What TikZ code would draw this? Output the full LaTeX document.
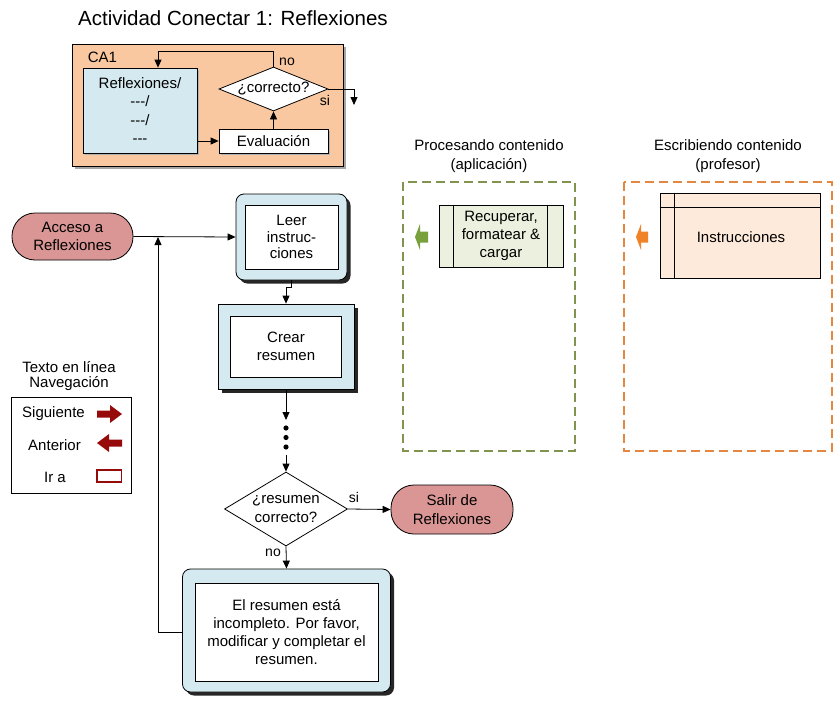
\documentclass[tikz,border=0pt]{standalone}
\usepackage{fontspec}
\setmainfont{Liberation Sans}
\usetikzlibrary{arrows.meta,shapes.geometric,shadows}

\definecolor{capeach}{RGB}{249,200,160}
\definecolor{stepblue}{RGB}{213,234,240}
\definecolor{termpink}{RGB}{217,150,148}
\definecolor{navred}{RGB}{150,10,10}
\definecolor{appgreen}{RGB}{128,148,80}
\definecolor{appgreenarrow}{RGB}{120,160,60}
\definecolor{appgreenfill}{RGB}{235,241,222}
\definecolor{profor}{RGB}{228,135,65}
\definecolor{proforarrow}{RGB}{240,130,40}
\definecolor{proforfill}{RGB}{253,234,218}

\tikzset{
  txt/.style={font=\fontsize{15}{18.3}\selectfont, align=center, inner sep=0pt},
  lbl/.style={font=\fontsize{14}{16}\selectfont, inner sep=0pt},
  arr/.style={-{Triangle[length=8pt,width=7pt]}, line width=0.8pt},
  ln/.style={line width=0.8pt},
  cabox/.style={draw, line width=0.8pt, fill=capeach, minimum width=271pt, minimum height=122pt,
    drop shadow={shadow xshift=3pt, shadow yshift=-3pt, fill=gray!70, opacity=1}},
  reflbox/.style={txt, draw, line width=0.8pt, fill=stepblue, minimum width=114pt, minimum height=85pt,
    drop shadow={shadow xshift=2pt, shadow yshift=-2pt, fill=gray!60, opacity=1}},
  evalbox/.style={txt, draw, line width=0.8pt, fill=white, minimum width=109pt, minimum height=24pt,
    drop shadow={shadow xshift=2pt, shadow yshift=-2pt, fill=gray!60, opacity=1}},
  decision/.style={txt, draw, line width=0.8pt, fill=white, diamond, inner sep=0pt},
  terminal/.style={txt, draw, line width=0.8pt, fill=termpink, rounded corners=23pt},
  stepouter/.style={draw, line width=0.8pt, fill=stepblue,
    drop shadow={shadow xshift=3.5pt, shadow yshift=-3.5pt, fill=black!85, opacity=1}},
  stepinner/.style={txt, draw, line width=0.8pt, fill=white},
  lane/.style={line width=1.5pt, dash pattern=on 9pt off 5pt},
}

\begin{document}
\begin{tikzpicture}[x=1pt,y=-1pt]
\useasboundingbox (0,0) rectangle (833,704);

% ---------- title ----------
\node[font=\fontsize{20.5}{24}\selectfont, inner sep=0pt] (title) at (233,18) {Actividad Conectar 1: Reflexiones};

% ---------- CA1 activity block ----------
\node[cabox] (ca) at (207.5,105) {};
\node[txt] (calbl) at (102.5,57) {CA1};
\node[reflbox] (refl) at (140,110.5) {Reflexiones/\\-{}-{}-/\\-{}-{}-/\\-{}-{}-};
\node[evalbox] (eval) at (273.5,141) {Evaluación};
\node[decision, minimum width=109pt, minimum height=44pt, aspect=2.48] (cor) at (273.5,89) {¿correcto?};
\coordinate (siend) at (354,105);

\draw[arr] (refl.east |- eval.west) -- (eval.west);
\draw[arr] (eval.north) -- (cor.south);
\draw[arr] (cor.north) -- ++(0,-15) -| ([xshift=18pt]refl.north);
\draw[arr] (cor.east) -| (siend);
\node[lbl] (cano) at (287,62) {no};
\node[lbl] (casi) at (325,100) {si};

% ---------- main flow ----------
\node[terminal, minimum width=121pt, minimum height=47pt] (acceso) at (72.5,236.5) {Acceso a\\Reflexiones};

\node[stepouter, rounded corners=8pt, minimum width=111pt, minimum height=86pt] (leer) at (291.5,237) {};
\node[stepinner, minimum width=93pt, minimum height=64pt, font=\fontsize{15}{16.5}\selectfont] (leertxt) at (291.5,237) {Leer\\instruc-\\ciones};

\node[stepouter, minimum width=136pt, minimum height=85pt] (crear) at (286,346.5) {};
\node[stepinner, minimum width=111pt, minimum height=61pt] (creartxt) at (286,346.5) {Crear\\resumen};

\coordinate (dotsin) at (286,420);
\coordinate (dotsout) at (286,455);
\fill (286,428) circle (2.6pt) (286,437.5) circle (2.6pt) (286,447) circle (2.6pt);

\node[decision, minimum width=123pt, minimum height=74pt, aspect=1.66] (check) at (286,509) {¿resumen\\correcto?};
\node[terminal, minimum width=122pt, minimum height=49pt] (salir) at (452,509.5) {Salir de\\Reflexiones};

\node[stepouter, rounded corners=8pt, minimum width=208pt, minimum height=123pt] (fb) at (286.5,630.5) {};
\node[stepinner, minimum width=183pt, minimum height=98pt] (fbtxt) at (286.5,632) {El resumen está\\incompleto. Por favor,\\modificar y completar el\\resumen.};

\coordinate (loopb) at (158,632);
\coordinate (loopt) at (158,237);

\draw[arr] (acceso.east) -- (leer.west);
\draw[arr] (leer.south) -- ++(0,7) -| (crear.north);
\draw[arr] (crear.south) -- (dotsin);
\draw[arr] (dotsout) -- (check.north);
\draw[arr] (check.east) -- (salir.west);
\draw[arr] (check.south) -- (fb.north);
\draw[arr] (fb.west |- loopb) -- (loopb) -- (loopt);
\node[lbl] (chsi) at (354,497) {si};
\node[lbl] (chno) at (273,553) {no};

% ---------- navigation legend ----------
\node[txt] (legt1) at (69,367) {Texto en línea};
\node[txt] (legt2) at (69,384) {Navegación};
\node[draw, line width=0.8pt, minimum width=120pt, minimum height=96pt, inner sep=0pt] (legbox) at (71,445) {};
\node[txt] (legnext) at (53.5,414) {Siguiente};
\node[txt] (legprev) at (54.5,445) {Anterior};
\node[txt] (leggo) at (55,477) {Ir a};
\fill[navred] (97,410.5) -- (110,410.5) -- (110,405) -- (122,414) -- (110,423) -- (110,417.5) -- (97,417.5) -- cycle;
\fill[navred] (122,439.5) -- (109,439.5) -- (109,434) -- (97,443) -- (109,452) -- (109,446.5) -- (122,446.5) -- cycle;
\draw[navred, line width=1.5pt] (97,470) rectangle (121.5,482);

% ---------- application lane ----------
\node[txt] (apph) at (489,156) {Procesando contenido\\(aplicación)};
\draw[lane, appgreen] (403,182) rectangle (575,451);
\node[txt, draw, line width=0.8pt, fill=appgreenfill, minimum width=124pt, minimum height=62pt] (recup) at (501,236) {Recuperar,\\formatear \&\\cargar};
\draw[ln] ([xshift=15pt]recup.north west) -- ([xshift=15pt]recup.south west);
\draw[ln] ([xshift=-16pt]recup.north east) -- ([xshift=-16pt]recup.south east);
\fill[appgreenarrow] (415,237) -- (420,224) -- (420,231.5) -- (428,231.5) -- (428,242.5) -- (420,242.5) -- (420,250) -- cycle;

% ---------- author lane ----------
\node[txt] (profh) at (728,156) {Escribiendo contenido\\(profesor)};
\draw[lane, profor] (624,182) rectangle (832,451);
\node[txt, draw, line width=0.8pt, fill=proforfill, minimum width=160pt, minimum height=85pt] (instr) at (740,235.5) {};
\draw[ln] ([xshift=15pt]instr.north west) -- ([xshift=15pt]instr.south west);
\draw[ln] ([yshift=-15pt]instr.north west) -- ([yshift=-15pt]instr.north east);
\node[txt] (instrtxt) at (741,237) {Instrucciones};
\fill[proforarrow] (636,237) -- (641,224) -- (641,231.5) -- (648,231.5) -- (648,242.5) -- (641,242.5) -- (641,250) -- cycle;

\end{tikzpicture}
\end{document}
